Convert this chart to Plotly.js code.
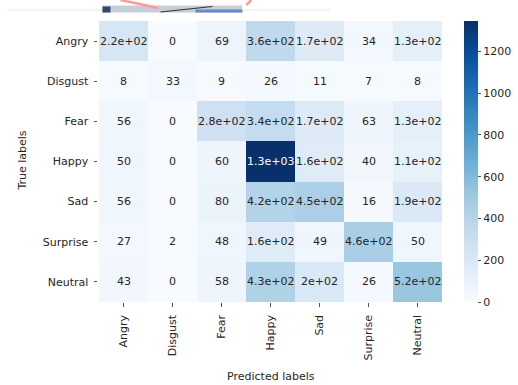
<!DOCTYPE html>
<html>
<head>
<meta charset="utf-8">
<script src="https://cdn.plot.ly/plotly-3.0.1.min.js"></script>
<style>html,body{margin:0;padding:0;background:#fff;}#chart{width:518px;height:385px;}</style>
</head>
<body>
<div id="chart"></div>
<script>
const predictedLabels = ["Angry","Disgust","Fear","Happy","Sad","Surprise","Neutral"];
const trueLabels = ["Angry","Disgust","Fear","Happy","Sad","Surprise","Neutral"];
const rowAngry    = [220, 0, 69, 360, 170, 34, 130];
const rowDisgust  = [8, 33, 9, 26, 11, 7, 8];
const rowFear     = [56, 0, 280, 340, 170, 63, 130];
const rowHappy    = [50, 0, 60, 1345, 160, 40, 110];
const rowSad      = [56, 0, 80, 420, 450, 16, 190];
const rowSurprise = [27, 2, 48, 160, 49, 460, 50];
const rowNeutral  = [43, 0, 58, 430, 200, 26, 520];
const colorbarTicks = [0, 200, 400, 600, 800, 1000, 1200];

const z = [rowAngry, rowDisgust, rowFear, rowHappy, rowSad, rowSurprise, rowNeutral];

function fmt2g(v) {
  if (v === 0) return "0";
  const e = Math.floor(Math.log10(Math.abs(v)));
  if (e < 2) return String(Math.round(Number(v.toPrecision(2))));
  let m = (v / Math.pow(10, e)).toFixed(1);
  if (m.endsWith(".0")) m = m.slice(0, -2);
  return m + "e+" + String(e).padStart(2, "0");
}

const FONT = "DejaVu Sans";
const FS = 11;
const TXT = "#262626";

const blues = [
  [0.0, "#f7fbff"], [0.125, "#deebf7"], [0.25, "#c6dbef"], [0.375, "#9ecae1"],
  [0.5, "#6baed6"], [0.625, "#4292c6"], [0.75, "#2171b5"], [0.875, "#08519c"], [1.0, "#08306b"]
];
let zmax = 0;
z.forEach(r => r.forEach(v => { if (v > zmax) zmax = v; }));

// plot area in pixels
const L = 97.5, R = 443, T = 21, B = 302;
const px = x => (x - L) / (R - L);
const py = y => (B - y) / (B - T);

const annotations = [];
z.forEach((row, i) => {
  row.forEach((v, j) => {
    annotations.push({
      x: predictedLabels[j], y: trueLabels[i], xref: "x", yref: "y",
      text: fmt2g(v), showarrow: false,
      font: {family: FONT, size: FS, color: v / zmax > 0.6 ? "#ffffff" : TXT}
    });
  });
});
annotations.push({
  text: "Predicted labels", xref: "paper", yref: "paper", x: 0.5, y: py(376),
  xanchor: "center", yanchor: "middle", showarrow: false,
  font: {family: FONT, size: FS, color: TXT}
});
annotations.push({
  text: "True labels", xref: "paper", yref: "paper", x: px(21), y: py(161),
  xanchor: "center", yanchor: "middle", showarrow: false, textangle: -90,
  font: {family: FONT, size: FS, color: TXT}
});

const shapes = [
  {type: "line", xref: "paper", yref: "paper", x0: px(7), x1: px(330), y0: py(10), y1: py(10), line: {color: "#f0f0f0", width: 1.5}},
  {type: "rect", xref: "paper", yref: "paper", x0: px(102), x1: px(242), y0: py(12.5), y1: py(5.5), fillcolor: "#c6ced6", line: {width: 0}},
  {type: "rect", xref: "paper", yref: "paper", x0: px(195), x1: px(242), y0: py(12.5), y1: py(9.5), fillcolor: "#6a88d2", line: {width: 0}},
  {type: "rect", xref: "paper", yref: "paper", x0: px(102), x1: px(110), y0: py(12.5), y1: py(6.5), fillcolor: "#34466e", line: {width: 0}},
  {type: "line", xref: "paper", yref: "paper", x0: px(160), x1: px(212), y0: py(12), y1: py(6.5), line: {color: "#333", width: 1.2}},
  {type: "line", xref: "paper", yref: "paper", x0: px(120), x1: px(158), y0: py(0), y1: py(8), line: {color: "#ff9a9a", width: 2.5}},
  {type: "line", xref: "paper", yref: "paper", x0: px(251), x1: px(246), y0: py(0), y1: py(5), line: {color: "#ff9a9a", width: 2.5}}
];

const data = [{
  type: "heatmap",
  x: predictedLabels, y: trueLabels, z: z,
  colorscale: blues, zmin: 0, zmax: zmax,
  hoverinfo: "skip",
  colorbar: {
    x: px(464.3), xanchor: "left", xref: "paper", xpad: 0, ypad: 0,
    y: 0.5, yanchor: "middle", len: 1, lenmode: "fraction",
    thickness: 14, thicknessmode: "pixels",
    outlinewidth: 0, ticks: "outside", ticklen: 3.5, tickwidth: 0.8, tickcolor: TXT,
    tickvals: colorbarTicks, ticktext: colorbarTicks.map(String),
    tickfont: {family: FONT, size: FS, color: TXT}
  }
}];

const layout = {
  width: 518, height: 385,
  margin: {l: L, r: 518 - R, t: T, b: 385 - B, pad: 0, autoexpand: false},
  paper_bgcolor: "#ffffff", plot_bgcolor: "#ffffff",
  font: {family: FONT, size: FS, color: TXT},
  xaxis: {
    type: "category", showgrid: false, zeroline: false, showline: false,
    ticks: "outside", ticklen: 3.5, tickwidth: 0.8, tickcolor: TXT,
    tickangle: -90, ticklabelstandoff: 4, tickfont: {family: FONT, size: FS, color: TXT},
    automargin: false
  },
  yaxis: {
    type: "category", autorange: "reversed", showgrid: false, zeroline: false, showline: false,
    ticks: "outside", ticklen: 3.5, tickwidth: 0.8, tickcolor: TXT,
    ticklabelstandoff: 3, tickfont: {family: FONT, size: FS, color: TXT},
    automargin: false
  },
  annotations: annotations,
  shapes: shapes,
  showlegend: false
};

Plotly.newPlot("chart", data, layout, {displayModeBar: false, staticPlot: true});
</script>
</body>
</html>
